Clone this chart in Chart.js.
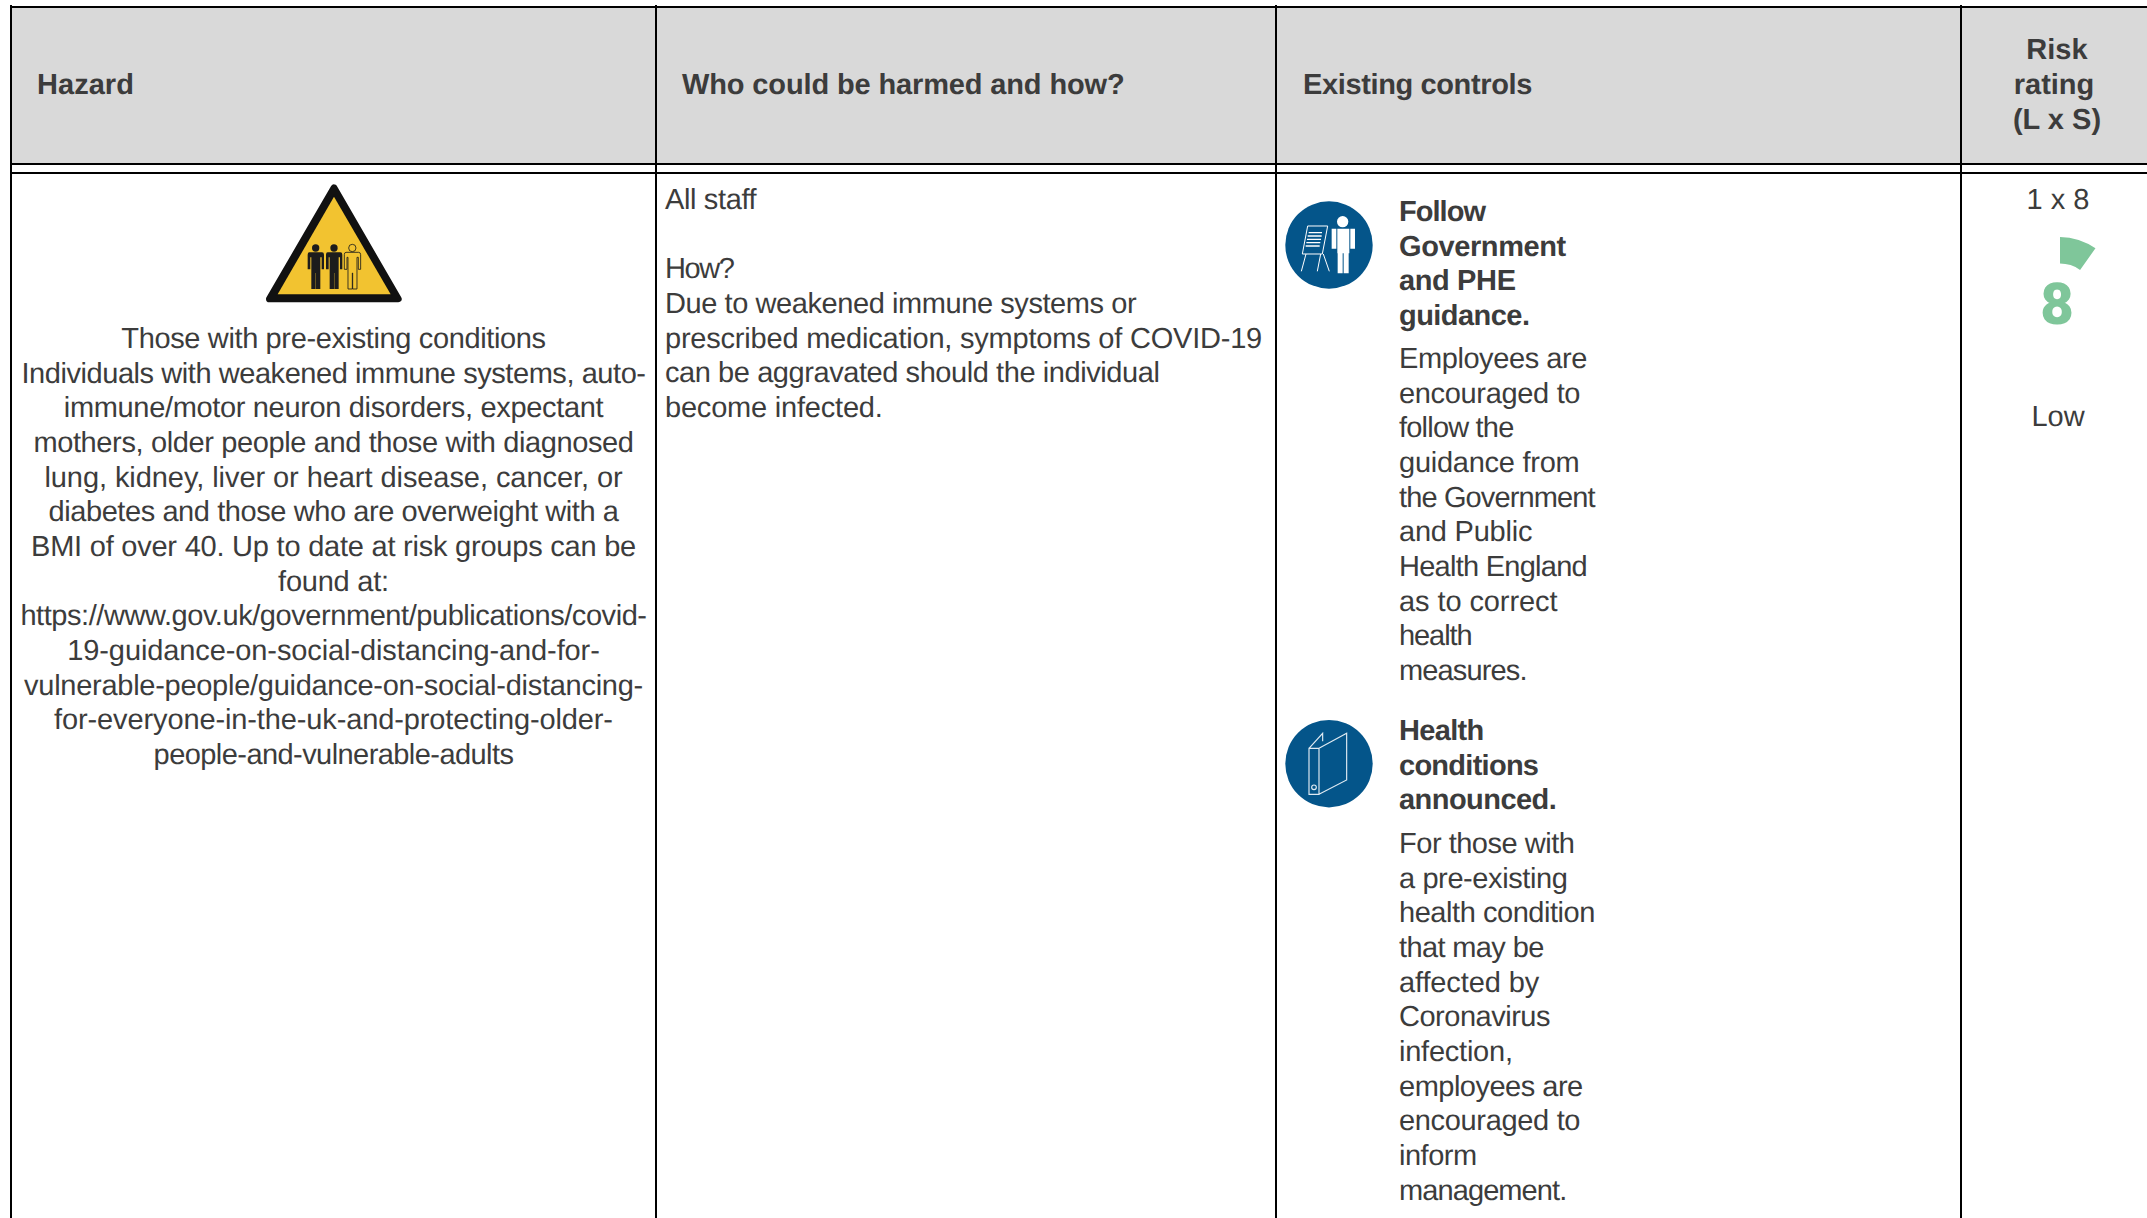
<!DOCTYPE html>
<html>
<head>
<meta charset="utf-8">
<title>Risk assessment</title>
<script src="https://cdn.jsdelivr.net/npm/chart.js@4"></script>
<style>
  html, body { margin: 0; padding: 0; background: #fff; }
  #page { position: relative; width: 2147px; height: 1218px; overflow: hidden; font-family: "Liberation Sans", Arial, sans-serif; color: #3c3c3c; text-rendering: geometricPrecision; }
  .rule { position: absolute; background: #000; }
  .head { position: absolute; background: #d9d9d9; }
  .ln { position: absolute; white-space: nowrap; font-size: 29px; line-height: 34px; transform: translateY(-50%); }
  .ln.c { transform: translate(-50%, -50%); }
  .ln.b { font-weight: bold; }
  #gaugeBox { position: absolute; left: 1990px; top: 228px; width: 140px; height: 140px; }
  #gaugeNum { position: absolute; left: 2057px; top: 305px; transform: translate(-50%, -50%); font-size: 58px; line-height: 58px; font-weight: 900; color: #7fc69a; font-family: Roboto, sans-serif; }
  svg { position: absolute; left: 0; top: 0; }
</style>
</head>
<body>
<div id="page">
  <div class="head" style="left:11px;top:8px;width:2136px;height:155px"></div>
  <svg width="2147" height="1218">
    <!-- warning sign -->
    <g transform="translate(255 175) scale(0.3333)">
      <path d="M237 38 L430 372 L43 372 Z" fill="#111" stroke="#111" stroke-width="20" stroke-linejoin="round"/>
      <path d="M237 65 L407 358 L68 358 Z" fill="#f2c330"/>
      <g fill="#1c1c1c">
        <circle cx="182" cy="219" r="11"/>
        <path d="M163 232h38q6 0 6 7v44h-7v-36h-4v95h-13v-48h-1v48h-13v-95h-3v36h-8v-44q0-7 5-7z"/>
        <circle cx="237" cy="219" r="11"/>
        <path d="M218 232h38q6 0 6 7v44h-7v-36h-4v95h-13v-48h-1v48h-13v-95h-3v36h-8v-44q0-7 5-7z"/>
      </g>
      <g fill="none" stroke="#1c1c1c" stroke-width="2.5">
        <circle cx="292" cy="219" r="11"/>
        <path d="M273 232h38q6 0 6 7v44h-7v-36h-4v95h-13v-48h-1v48h-13v-95h-3v36h-8v-44q0-7 5-7z"/>
      </g>
    </g>
    <!-- training icon -->
    <circle cx="1329" cy="245" r="43.7" fill="#04558a"/>
    <g transform="translate(1260 150) scale(0.3333)" fill="#fff" stroke="none">
      <circle cx="248" cy="215" r="17"/>
      <path d="M215 236h14v60h-14zM232 236h36v74h-2v60h-15v-60h-3v60h-15v-60h-1zM271 236h14v60h-14z"/>
      <g fill="none" stroke="#fff" stroke-width="3">
        <path d="M143 228h60l-16 84h-60zM124 364l14-52M172 364l10-52M208 364l-18-52"/>
        <path d="M146 248h40M143 258h42M141 268h42M139 278h42M137 288h42" stroke-width="4"/>
      </g>
    </g>
    <!-- binder icon -->
    <circle cx="1329" cy="763.7" r="43.7" fill="#04558a"/>
    <g transform="translate(1260 690) scale(0.3333)" fill="none" stroke="#dfeaf2" stroke-width="3.5">
      <path d="M147 175h30v138h-30zM147 175l41-45v24M177 175l83-45v140l-83 43"/>
      <circle cx="162" cy="292" r="7"/>
    </g>
  </svg>
  <div class="rule" style="left:10px;top:6px;width:2137px;height:2px"></div>
  <div class="rule" style="left:10px;top:163px;width:2137px;height:2px"></div>
  <div class="rule" style="left:10px;top:172px;width:2137px;height:2px"></div>
  <div class="rule" style="left:10px;top:5px;width:2px;height:1213px"></div>
  <div class="rule" style="left:655px;top:5px;width:2px;height:1213px"></div>
  <div class="rule" style="left:1275px;top:5px;width:2px;height:1213px"></div>
  <div class="rule" style="left:1960px;top:5px;width:2px;height:1213px"></div>
  <div id="text"></div>
  <div id="gaugeBox"><canvas id="gauge"></canvas></div>
  <div id="gaugeNum"></div>
</div>
<script>
// gauge data: risk score out of 9 x 9
const riskLabels = ["Score", "Remainder"];
const riskValues = [8, 73];
const riskScore = "8";

const headers = ["Hazard", "Who could be harmed and how?", "Existing controls"];
const ratingHeader = ["Risk", "rating", "(L x S)"];
const hazardLines = [
  "Those with pre-existing conditions",
  "Individuals with weakened immune systems, auto-",
  "immune/motor neuron disorders, expectant",
  "mothers, older people and those with diagnosed",
  "lung, kidney, liver or heart disease, cancer, or",
  "diabetes and those who are overweight with a",
  "BMI of over 40. Up to date at risk groups can be",
  "found at:",
  "https://www.gov.uk/government/publications/covid-",
  "19-guidance-on-social-distancing-and-for-",
  "vulnerable-people/guidance-on-social-distancing-",
  "for-everyone-in-the-uk-and-protecting-older-",
  "people-and-vulnerable-adults"
];
const whoLines = [
  "All staff",
  "",
  "How?",
  "Due to weakened immune systems or",
  "prescribed medication, symptoms of COVID-19",
  "can be aggravated should the individual",
  "become infected."
];
const control1Title = ["Follow", "Government", "and PHE", "guidance."];
const control1Body = ["Employees are", "encouraged to", "follow the", "guidance from", "the Government", "and Public", "Health England", "as to correct", "health", "measures."];
const control2Title = ["Health", "conditions", "announced."];
const control2Body = ["For those with", "a pre-existing", "health condition", "that may be", "affected by", "Coronavirus", "infection,", "employees are", "encouraged to", "inform", "management."];

const viewScale = 2147 / 1568;
const headerWidths = [71, 323, 167];
const hazardWidths = [310, 456, 394, 438, 422, 416, 442, 81, 457, 389, 452, 408, 263];
const whoWidths = [67, 0, 50, 344, 436, 361, 159];
const title1Widths = [63, 122, 85, 95];
const body1Widths = [137, 132, 84, 132, 143, 97, 137, 116, 53, 93];
const title2Widths = [62, 102, 115];
const body2Widths = [128, 123, 143, 106, 102, 110, 83, 134, 132, 57, 122];

const textBox = document.getElementById("text");
function addLines(lines, x, y, cls, widths) {
  const pitch = 34.67;
  lines.forEach(function (line, i) {
    const el = document.createElement("div");
    el.className = "ln " + cls;
    el.textContent = line;
    el.style.left = x + "px";
    el.style.top = (y + i * pitch) + "px";
    textBox.appendChild(el);
    // squeeze each line to the width it has in the picture
    if (widths && widths[i]) {
      const gap = (widths[i] * viewScale - el.offsetWidth) / line.length;
      el.style.letterSpacing = gap.toFixed(3) + "px";
    }
  });
}

addLines([headers[0]], 37, 85, "b", [headerWidths[0]]);
addLines([headers[1]], 682, 85, "b", [headerWidths[1]]);
addLines([headers[2]], 1303, 85, "b", [headerWidths[2]]);
addLines([ratingHeader[0]], 2057, 50, "b c");
addLines([ratingHeader[1]], 2054, 85, "b c");
addLines([ratingHeader[2]], 2057, 120, "b c");
addLines(hazardLines, 333.5, 339, "c", hazardWidths);
addLines(whoLines, 665, 200, "", whoWidths);
addLines(control1Title, 1399, 212, "b", title1Widths);
addLines(control1Body, 1399, 359, "", body1Widths);
addLines(control2Title, 1399, 731, "b", title2Widths);
addLines(control2Body, 1399, 844, "", body2Widths);
addLines(["1 x 8"], 2058, 200, "c");
addLines(["Low"], 2058, 417, "c");

document.getElementById("gaugeNum").textContent = riskScore;

new Chart(document.getElementById("gauge"), {
  type: "doughnut",
  data: {
    labels: riskLabels,
    datasets: [{
      data: riskValues,
      backgroundColor: ["#7fc69a", "rgba(0,0,0,0)"],
      borderWidth: 0
    }]
  },
  options: {
    responsive: true,
    maintainAspectRatio: true,
    animation: false,
    cutout: "56.6%",
    layout: { padding: 9 },
    plugins: { legend: { display: false }, tooltip: { enabled: false } }
  }
});
</script>
</body>
</html>
